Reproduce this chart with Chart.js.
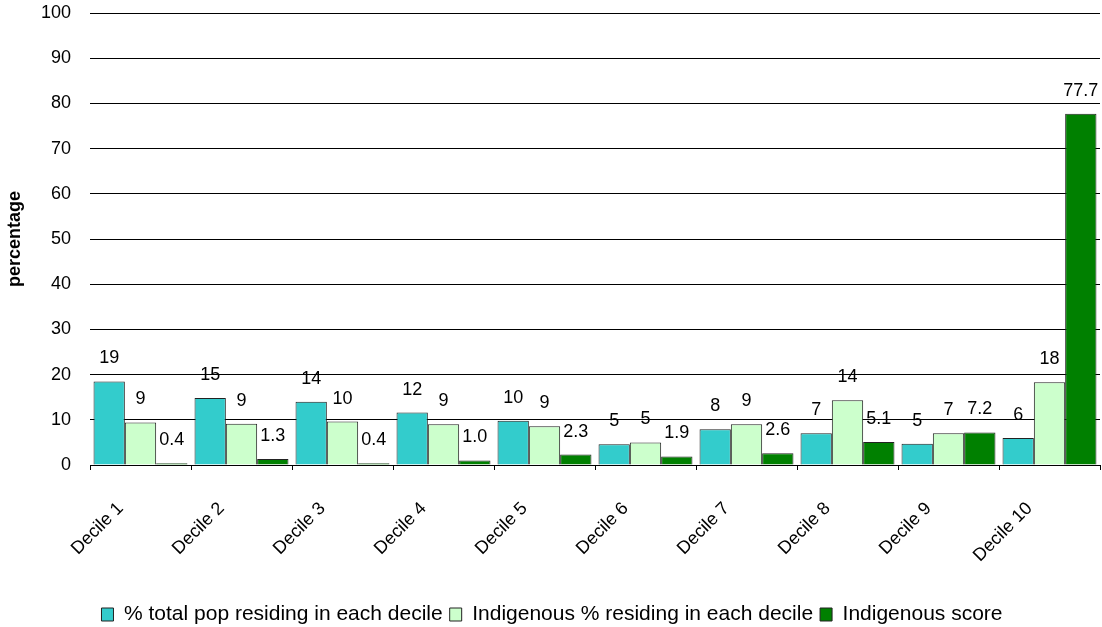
<!DOCTYPE html>
<html>
<head>
<meta charset="utf-8">
<script src="https://cdn.jsdelivr.net/npm/chart.js@4/dist/chart.umd.min.js"></script>
<style>
  html, body { margin: 0; padding: 0; background: #fff; }
  #wrap { width: 1102px; height: 627px; }
</style>
</head>
<body>
<div id="wrap"><canvas id="decileChart" width="1102" height="627"></canvas></div>
<script>
// deciles and the three series
const deciles = ['Decile 1', 'Decile 2', 'Decile 3', 'Decile 4', 'Decile 5',
                 'Decile 6', 'Decile 7', 'Decile 8', 'Decile 9', 'Decile 10'];
const totalPop = [18.5, 14.8, 14.0, 11.6, 9.8, 4.6, 7.9, 7.0, 4.7, 6.0];
const indigenousPop = [9.4, 9.1, 9.6, 9.0, 8.6, 5.0, 9.0, 14.3, 7.0, 18.3];
const indigenousScore = [0.4, 1.3, 0.4, 1.0, 2.3, 1.9, 2.6, 5.1, 7.2, 77.7];
const yTicks = [0, 10, 20, 30, 40, 50, 60, 70, 80, 90, 100];

const FONT = 'Liberation Sans, Arial, sans-serif';
const PAD_BOTTOM = -8;
const PLOT_BOTTOM = 465;

// value labels above each bar; decimals per dataset
const barLabels = {
    id: 'barLabels',
    afterDatasetsDraw(chart) {
        const ctx = chart.ctx;
        ctx.save();
        ctx.font = '18px ' + FONT;
        ctx.fillStyle = '#000';
        ctx.textAlign = 'center';
        ctx.textBaseline = 'middle';
        chart.data.datasets.forEach((ds, i) => {
            const meta = chart.getDatasetMeta(i);
            meta.data.forEach((bar, j) => {
                ctx.fillText(ds.data[j].toFixed(ds.decimals), bar.x, bar.y - 23);
            });
        });
        ctx.restore();
    }
};

new Chart(document.getElementById('decileChart').getContext('2d'), {
    type: 'bar',
    data: {
        labels: deciles,
        datasets: [
            { label: '% total pop residing in each decile', data: totalPop, decimals: 0,
              backgroundColor: '#33CCCC', borderColor: '#222', borderWidth: 1 },
            { label: 'Indigenous % residing in each decile', data: indigenousPop, decimals: 0,
              backgroundColor: '#CCFFCC', borderColor: '#222', borderWidth: 1 },
            { label: 'Indigenous score', data: indigenousScore, decimals: 1,
              backgroundColor: '#008000', borderColor: '#222', borderWidth: 1 }
        ]
    },
    options: {
        responsive: false,
        animation: false,
        layout: { padding: { left: 4, right: 2, top: 13, bottom: PAD_BOTTOM } },
        datasets: { bar: { categoryPercentage: 0.93, barPercentage: 1.0 } },
        scales: {
            x: {
                grid: { display: true, drawOnChartArea: false, offset: true,
                        color: '#000', tickLength: 5 },
                border: { display: true, color: '#000' },
                ticks: { color: '#000', font: { family: FONT, size: 18 },
                         minRotation: 45, maxRotation: 45, padding: 28, labelOffset: -20 },
                afterFit(scale) {
                    // keep the plot bottom fixed above the labels and legend
                    const legendH = scale.chart.legend ? scale.chart.legend.height : 34;
                    scale.height = scale.chart.height - PAD_BOTTOM - legendH - PLOT_BOTTOM;
                }
            },
            y: {
                min: 0, max: 100,
                afterBuildTicks(scale) { scale.ticks = yTicks.map(v => ({ value: v })); },
                grid: { color: '#000', drawTicks: false },
                border: { display: false },
                ticks: { color: '#000', font: { family: FONT, size: 18 }, padding: 19 },
                title: { display: true, text: 'percentage', color: '#000',
                         font: { family: FONT, size: 18, weight: 'bold' }, padding: 0 },
                afterFit(scale) {
                    scale.width = 86;
                    scale.paddingTop = 0;
                    scale.paddingBottom = 0;
                }
            }
        },
        plugins: {
            legend: {
                position: 'bottom',
                labels: { color: '#000', font: { family: FONT, size: 21 },
                          boxWidth: 12, boxHeight: 13, padding: 7 }
            },
            tooltip: { enabled: false }
        }
    },
    plugins: [barLabels]
});
</script>
</body>
</html>
